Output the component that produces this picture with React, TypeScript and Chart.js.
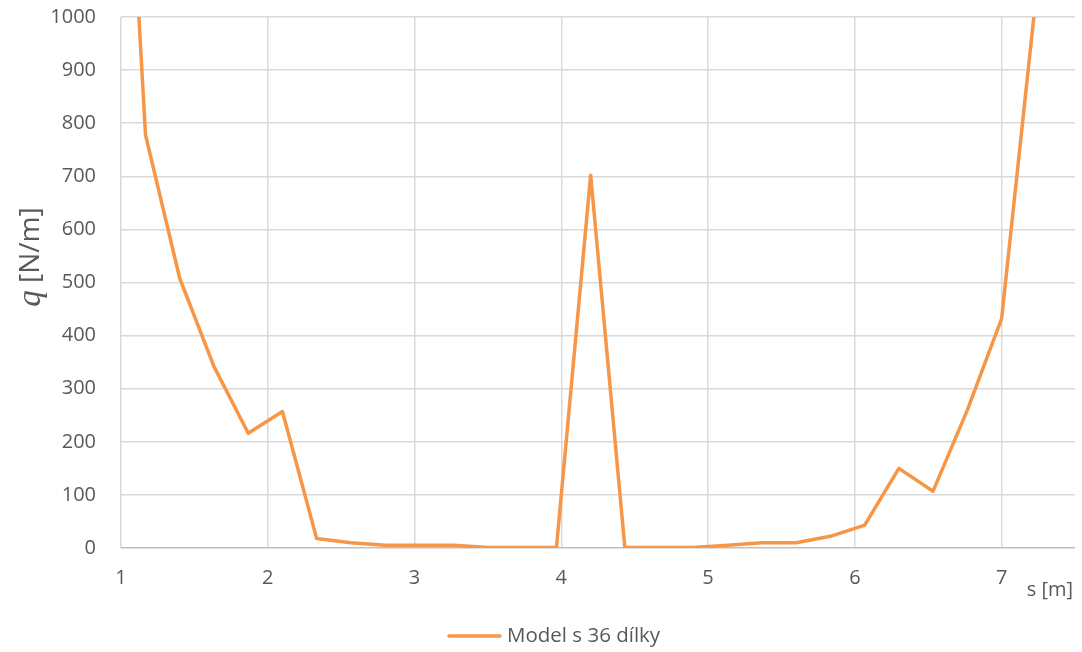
import React, { useEffect, useRef } from "react";
import { Chart, registerables } from "chart.js";

Chart.register(...registerables);

const sValues: number[] = [0.933, 1.167, 1.4, 1.633, 1.867, 2.1, 2.333, 2.567, 2.8, 3.033, 3.267, 3.5, 3.733, 3.967, 4.2, 4.433, 4.667, 4.9, 5.133, 5.367, 5.6, 5.833, 6.067, 6.3, 6.533, 6.767, 7.0, 7.233, 7.467];
const qValues: number[] = [1930, 778, 508, 342, 216, 257, 18, 10, 5, 5, 5, 1, 1, 1, 702, 1, 1, 1, 5, 10, 10, 22, 43, 150, 107, 260, 432, 1035, 2000];
const xTicks: number[] = [1, 2, 3, 4, 5, 6, 7];
const yTicks: number[] = [0, 100, 200, 300, 400, 500, 600, 700, 800, 900, 1000];
const seriesName = "Model s 36 dílky";
const xTitle = "s [m]";
const yTitleItalic = "q";
const yTitleRest = " [N/m]";

const FONT = "'Open Sans', sans-serif";
const TEXT = "#595959";
const ORANGE = "#F79646";

export default function App() {
  const ref = useRef<HTMLCanvasElement | null>(null);
  useEffect(() => {
    if (!ref.current) return;
    const extras = {
      id: "extras",
      afterDraw(chart: any) {
        const ctx = chart.ctx;
        const area = chart.chartArea;
        ctx.save();
        ctx.fillStyle = TEXT;
        ctx.font = `20px ${FONT}`;
        ctx.textAlign = "right";
        ctx.textBaseline = "middle";
        ctx.fillText(xTitle, area.right - 2, 590);
        ctx.translate(31, 257);
        ctx.rotate(-Math.PI / 2);
        const fi = `italic 33px 'Liberation Serif', serif`;
        const fr = `28px ${FONT}`;
        ctx.font = fi;
        const w1 = ctx.measureText(yTitleItalic).width;
        ctx.font = fr;
        const w2 = ctx.measureText(yTitleRest).width;
        const start = -(w1 + w2) / 2;
        ctx.textAlign = "left";
        ctx.font = fi;
        ctx.fillText(yTitleItalic, start, 0);
        ctx.font = fr;
        ctx.fillText(yTitleRest, start + w1, 0);
        ctx.restore();
        ctx.save();
        const ly = 636;
        ctx.strokeStyle = ORANGE;
        ctx.lineWidth = 3.5;
        ctx.lineCap = "round";
        ctx.beginPath();
        ctx.moveTo(449, ly);
        ctx.lineTo(500, ly);
        ctx.stroke();
        ctx.fillStyle = TEXT;
        ctx.font = `20.5px ${FONT}`;
        ctx.textAlign = "left";
        ctx.textBaseline = "middle";
        ctx.fillText(seriesName, 507, ly);
        ctx.restore();
      },
    };
    const chart = new Chart(ref.current, {
      type: "line",
      data: {
        datasets: [
          {
            label: seriesName,
            data: sValues.map((s, i) => ({ x: s, y: qValues[i] })),
            borderColor: ORANGE,
            backgroundColor: ORANGE,
            borderWidth: 3.5,
            pointRadius: 0,
            tension: 0,
            borderJoinStyle: "round",
          },
        ],
      },
      options: {
        animation: false,
        responsive: false,
        layout: { padding: { left: 0, right: 7, top: 17, bottom: 44 } },
        plugins: { legend: { display: false }, tooltip: { enabled: false } },
        scales: {
          x: {
            type: "linear",
            min: 1,
            max: 7.5,
            afterBuildTicks: (scale: any) => {
              scale.ticks = xTicks.map((v) => ({ value: v }));
            },
            afterFit: (scale: any) => {
              scale.height = 60;
              scale.paddingLeft = 0;
              scale.paddingRight = 0;
            },
            grid: { color: "#d9d9d9", lineWidth: 1.5, drawTicks: false },
            border: { display: false },
            ticks: {
              color: TEXT,
              font: { family: FONT, size: 20 },
              padding: 18,
              maxRotation: 0,
              autoSkip: false,
              callback: (v: any) => String(v),
            },
          },
          y: {
            min: 0,
            max: 1000,
            afterBuildTicks: (scale: any) => {
              scale.ticks = yTicks.map((v) => ({ value: v }));
            },
            afterFit: (scale: any) => {
              scale.width = 121;
              scale.paddingTop = 0;
              scale.paddingBottom = 0;
            },
            grid: {
              color: (c: any) => (c.tick && c.tick.value === 0 ? "#bfbfbf" : "#d9d9d9"),
              lineWidth: 1.5,
              drawTicks: false,
            },
            border: { display: false },
            ticks: {
              color: TEXT,
              font: { family: FONT, size: 20 },
              padding: 25,
              callback: (v: any) => String(v),
            },
          },
        },
      },
      plugins: [extras],
    } as any);
    return () => chart.destroy();
  }, []);
  return (
    <div style={{ position: "fixed", left: 0, top: 0, width: 1082, height: 652, background: "#fff" }}>
      <canvas ref={ref} width={1082} height={652} style={{ width: 1082, height: 652, display: "block" }} />
    </div>
  );
}
